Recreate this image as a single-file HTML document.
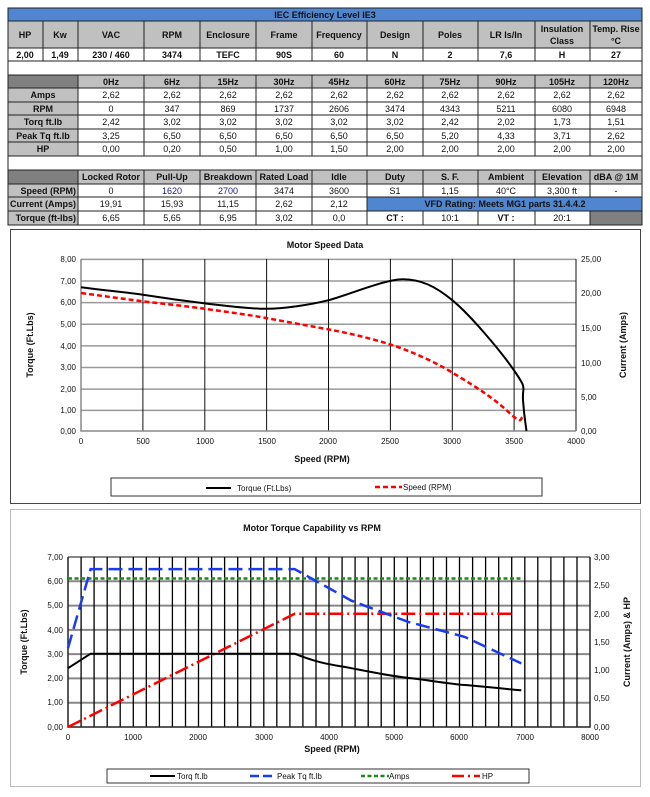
<!DOCTYPE html>
<html><head><meta charset="utf-8"><style>
html,body{margin:0;padding:0;background:#fff;}
svg{display:block;font-family:"Liberation Sans",sans-serif;}
.t{font-size:9px;font-weight:bold;text-anchor:middle;fill:#111;}
.n{font-size:9px;text-anchor:middle;fill:#111;}
.r{font-size:9px;font-weight:bold;text-anchor:end;fill:#111;}
.ax{font-size:8px;fill:#111;}
</style></head><body>
<svg width="650" height="797" viewBox="0 0 650 797" xmlns="http://www.w3.org/2000/svg">
<rect width="650" height="797" fill="#fff"/>
<g stroke="#222" stroke-width="1">
<rect x="8" y="8" width="634" height="13" fill="#4f86cf"/>
<rect x="8" y="21" width="35" height="27" fill="#c0c0c0"/>
<rect x="43" y="21" width="35" height="27" fill="#c0c0c0"/>
<rect x="78" y="21" width="66" height="27" fill="#c0c0c0"/>
<rect x="144" y="21" width="56" height="27" fill="#c0c0c0"/>
<rect x="200" y="21" width="56" height="27" fill="#c0c0c0"/>
<rect x="256" y="21" width="56" height="27" fill="#c0c0c0"/>
<rect x="312" y="21" width="55" height="27" fill="#c0c0c0"/>
<rect x="367" y="21" width="56" height="27" fill="#c0c0c0"/>
<rect x="423" y="21" width="55" height="27" fill="#c0c0c0"/>
<rect x="478" y="21" width="57" height="27" fill="#c0c0c0"/>
<rect x="535" y="21" width="55" height="27" fill="#c0c0c0"/>
<rect x="590" y="21" width="52" height="27" fill="#c0c0c0"/>
<rect x="8" y="48" width="35" height="13" fill="#fff"/>
<rect x="43" y="48" width="35" height="13" fill="#fff"/>
<rect x="78" y="48" width="66" height="13" fill="#fff"/>
<rect x="144" y="48" width="56" height="13" fill="#fff"/>
<rect x="200" y="48" width="56" height="13" fill="#fff"/>
<rect x="256" y="48" width="56" height="13" fill="#fff"/>
<rect x="312" y="48" width="55" height="13" fill="#fff"/>
<rect x="367" y="48" width="56" height="13" fill="#fff"/>
<rect x="423" y="48" width="55" height="13" fill="#fff"/>
<rect x="478" y="48" width="57" height="13" fill="#fff"/>
<rect x="535" y="48" width="55" height="13" fill="#fff"/>
<rect x="590" y="48" width="52" height="13" fill="#fff"/>
<rect x="8" y="61" width="634" height="14" fill="#fff"/>
<rect x="8" y="75" width="70" height="13" fill="#808080"/>
<rect x="8" y="88" width="70" height="14" fill="#c0c0c0"/>
<rect x="8" y="102" width="70" height="13" fill="#c0c0c0"/>
<rect x="8" y="115" width="70" height="14" fill="#c0c0c0"/>
<rect x="8" y="129" width="70" height="13" fill="#c0c0c0"/>
<rect x="8" y="142" width="70" height="14" fill="#c0c0c0"/>
<rect x="8" y="156" width="634" height="14" fill="#fff"/>
<rect x="8" y="170" width="70" height="14" fill="#808080"/>
<rect x="8" y="184" width="70" height="13" fill="#c0c0c0"/>
<rect x="8" y="197" width="70" height="14" fill="#c0c0c0"/>
<rect x="8" y="211" width="70" height="14" fill="#c0c0c0"/>
</g>
<g stroke="#222" stroke-width="1" fill="#fff">
<path d="M78 75H642V156H78Z" fill="#fff"/>
<path d="M78 75H642V88H78Z" fill="#c0c0c0"/>
<path d="M78 170H642V184H78Z" fill="#c0c0c0"/>
<path d="M78 184H642V225H78Z" fill="#fff"/>
<path d="M367 197H642V211H367Z" fill="#4f86cf"/>
<path d="M590 211H642V225H590Z" fill="#808080"/>
<path d="M78 88H642M78 102H642M78 115H642M78 129H642M78 142H642M78 197H642M78 211H642" fill="none"/>
<path d="M144 75V156M200 75V156M256 75V156M312 75V156M367 75V156M423 75V156M478 75V156M535 75V156M590 75V156" fill="none"/>
<path d="M144 170V225M200 170V225M256 170V225M312 170V225M367 170V225M423 170V197M478 170V197M535 170V197M590 170V197M423 211V225M478 211V225M535 211V225M590 211V225" fill="none"/>
</g>
<text class="t" x="325" y="18">IEC Efficiency Level IE3</text>
<g class="t">
<text x="25" y="38">HP</text><text x="60" y="38">Kw</text><text x="111" y="38">VAC</text><text x="172" y="38">RPM</text><text x="228" y="38">Enclosure</text><text x="284" y="38">Frame</text><text x="339" y="38">Frequency</text><text x="395" y="38">Design</text><text x="450" y="38">Poles</text><text x="506" y="38">LR Is/In</text><text x="562" y="32">Insulation</text><text x="562" y="44">Class</text><text x="616" y="32">Temp. Rise</text><text x="616" y="44">°C</text>
<text x="25" y="58">2,00</text><text x="60" y="58">1,49</text><text x="111" y="58">230 / 460</text><text x="172" y="58">3474</text><text x="228" y="58">TEFC</text><text x="284" y="58">90S</text><text x="339" y="58">60</text><text x="395" y="58">N</text><text x="450" y="58">2</text><text x="506" y="58">7,6</text><text x="562" y="58">H</text><text x="616" y="58">27</text>
<text x="111" y="85">0Hz</text><text x="172" y="85">6Hz</text><text x="228" y="85">15Hz</text><text x="284" y="85">30Hz</text><text x="339" y="85">45Hz</text><text x="395" y="85">60Hz</text><text x="450" y="85">75Hz</text><text x="506" y="85">90Hz</text><text x="562" y="85">105Hz</text><text x="616" y="85">120Hz</text>
<text x="43" y="98">Amps</text><text x="43" y="112">RPM</text><text x="43" y="125">Torq ft.lb</text><text x="43" y="139">Peak Tq ft.lb</text><text x="43" y="152">HP</text>
<text x="111" y="180">Locked Rotor</text><text x="172" y="180">Pull-Up</text><text x="228" y="180">Breakdown</text><text x="284" y="180">Rated Load</text><text x="339" y="180">Idle</text><text x="395" y="180">Duty</text><text x="450" y="180">S. F.</text><text x="506" y="180">Ambient</text><text x="562" y="180">Elevation</text><text x="616" y="180">dBA @ 1M</text>
<text x="505" y="207">VFD Rating: Meets MG1 parts 31.4.4.2</text>
</g>
<g class="r"><text x="76" y="194">Speed (RPM)</text><text x="76" y="207">Current (Amps)</text><text x="76" y="221">Torque (ft-lbs)</text></g>
<g class="n">
<text x="111" y="98">2,62</text><text x="172" y="98">2,62</text><text x="228" y="98">2,62</text><text x="284" y="98">2,62</text><text x="339" y="98">2,62</text><text x="395" y="98">2,62</text><text x="450" y="98">2,62</text><text x="506" y="98">2,62</text><text x="562" y="98">2,62</text><text x="616" y="98">2,62</text>
<text x="111" y="112">0</text><text x="172" y="112">347</text><text x="228" y="112">869</text><text x="284" y="112">1737</text><text x="339" y="112">2606</text><text x="395" y="112">3474</text><text x="450" y="112">4343</text><text x="506" y="112">5211</text><text x="562" y="112">6080</text><text x="616" y="112">6948</text>
<text x="111" y="125">2,42</text><text x="172" y="125">3,02</text><text x="228" y="125">3,02</text><text x="284" y="125">3,02</text><text x="339" y="125">3,02</text><text x="395" y="125">3,02</text><text x="450" y="125">2,42</text><text x="506" y="125">2,02</text><text x="562" y="125">1,73</text><text x="616" y="125">1,51</text>
<text x="111" y="139">3,25</text><text x="172" y="139">6,50</text><text x="228" y="139">6,50</text><text x="284" y="139">6,50</text><text x="339" y="139">6,50</text><text x="395" y="139">6,50</text><text x="450" y="139">5,20</text><text x="506" y="139">4,33</text><text x="562" y="139">3,71</text><text x="616" y="139">2,62</text>
<text x="111" y="152">0,00</text><text x="172" y="152">0,20</text><text x="228" y="152">0,50</text><text x="284" y="152">1,00</text><text x="339" y="152">1,50</text><text x="395" y="152">2,00</text><text x="450" y="152">2,00</text><text x="506" y="152">2,00</text><text x="562" y="152">2,00</text><text x="616" y="152">2,00</text>
<text x="111" y="194">0</text><text x="172" y="194" fill="#1a1a8a">1620</text><text x="228" y="194" fill="#1a1a8a">2700</text><text x="284" y="194">3474</text><text x="339" y="194">3600</text><text x="395" y="194">S1</text><text x="450" y="194">1,15</text><text x="506" y="194">40°C</text><text x="562" y="194">3,300 ft</text><text x="616" y="194">-</text>
<text x="111" y="207">19,91</text><text x="172" y="207">15,93</text><text x="228" y="207">11,15</text><text x="284" y="207">2,62</text><text x="339" y="207">2,12</text>
<text x="111" y="221">6,65</text><text x="172" y="221">5,65</text><text x="228" y="221">6,95</text><text x="284" y="221">3,02</text><text x="339" y="221">0,0</text>
<text x="395" y="221" font-weight="bold">CT :</text><text x="450" y="221">10:1</text><text x="506" y="221" font-weight="bold">VT :</text><text x="562" y="221">20:1</text>
</g>

<rect x="10.5" y="229.5" width="630" height="274" fill="#fff" stroke="#444"/>
<text x="325" y="248" class="t" font-size="10">Motor Speed Data</text>
<g stroke="#999" stroke-width="1.5">
<path d="M81 259.4H576M81 281H576M81 302.6H576M81 324.3H576M81 345.9H576M81 367.5H576M81 389.1H576M81 410.4H576"/>
</g>
<g stroke="#111" stroke-width="1">
<path d="M142.9 259V431M204.8 259V431M266.6 259V431M328.5 259V431M390.4 259V431M452.3 259V431M514.1 259V431M576 259V431"/>
</g>
<path d="M81 259V431H576" fill="none" stroke="#888" stroke-width="1.5"/>
<g class="ax" text-anchor="end">
<text x="76" y="262">8,00</text><text x="76" y="284">7,00</text><text x="76" y="305">6,00</text><text x="76" y="327">5,00</text><text x="76" y="349">4,00</text><text x="76" y="370">3,00</text><text x="76" y="392">2,00</text><text x="76" y="413">1,00</text><text x="76" y="434">0,00</text>
</g>
<g class="ax">
<text x="581" y="262">25,00</text><text x="581" y="296">20,00</text><text x="581" y="331">15,00</text><text x="581" y="366">10,00</text><text x="581" y="400">5,00</text><text x="581" y="434">0,00</text>
</g>
<g class="ax" text-anchor="middle">
<text x="81" y="444">0</text><text x="143" y="444">500</text><text x="205" y="444">1000</text><text x="267" y="444">1500</text><text x="328" y="444">2000</text><text x="390" y="444">2500</text><text x="452" y="444">3000</text><text x="514" y="444">3500</text><text x="576" y="444">4000</text>
</g>
<text x="322" y="462" class="t">Speed (RPM)</text>
<text transform="translate(33,345) rotate(-90)" class="t" font-size="8.5">Torque (Ft.Lbs)</text>
<text transform="translate(626,345) rotate(-90)" class="t" font-size="8.5">Current (Amps)</text>
<path d="M81 287.2C110 291 125 292 142.9 294.8S185 301 204.8 303.4S250 309 266.6 308.8S310 305 328.5 300.2S385 279.2 402.8 279.2S435 286 452.3 300.2S500 350 514.1 370.5S522 385 523 400S525 420 526.5 431" fill="none" stroke="#000" stroke-width="2"/>
<path d="M81 293C110 297 125 299 142.9 301.3S185 306 204.8 308.8S250 315 266.6 318.1S310 326 328.5 329.4S370 338 390.4 344.5S435 362 452.3 372.6S490 395 507.9 411.5S518 416 525 416.3" fill="none" stroke="#f00" stroke-width="2.5" stroke-dasharray="5,3"/>
<rect x="111" y="478" width="431" height="18" fill="#fff" stroke="#333"/>
<path d="M206 488H231" stroke="#000" stroke-width="2"/>
<text x="237" y="491" class="ax">Torque (Ft.Lbs)</text>
<path d="M375 487H402" stroke="#f00" stroke-width="2.5" stroke-dasharray="5,3"/>
<text x="403" y="490" class="ax">Speed (RPM)</text>

<rect x="10.5" y="509.5" width="630" height="277" fill="#fff" stroke="#bbb"/>
<text x="312" y="531" class="t" font-size="10">Motor Torque Capability vs RPM</text>
<g stroke="#888" stroke-width="2">
<path d="M68 557H590M68 581.3H590M68 605.6H590M68 629.9H590M68 654.1H590M68 678.4H590M68 702.7H590"/>
</g>
<g stroke="#000" stroke-width="1.3">
<path d="M81.1 557V727M94.1 557V727M107.2 557V727M120.2 557V727M133.3 557V727M146.3 557V727M159.4 557V727M172.4 557V727M185.5 557V727M198.5 557V727M211.6 557V727M224.6 557V727M237.7 557V727M250.7 557V727M263.8 557V727M276.8 557V727M289.9 557V727M302.9 557V727M316 557V727M329 557V727M342.1 557V727M355.1 557V727M368.2 557V727M381.2 557V727M394.3 557V727M407.3 557V727M420.4 557V727M433.4 557V727M446.5 557V727M459.5 557V727M472.6 557V727M485.6 557V727M498.7 557V727M511.7 557V727M524.8 557V727M537.8 557V727M550.9 557V727M563.9 557V727M577 557V727"/>
</g>
<path d="M68 557V727H590V557" fill="none" stroke="#222" stroke-width="1.5"/>
<g class="ax" text-anchor="end">
<text x="63" y="560">7,00</text><text x="63" y="584">6,00</text><text x="63" y="608">5,00</text><text x="63" y="633">4,00</text><text x="63" y="657">3,00</text><text x="63" y="681">2,00</text><text x="63" y="705">1,00</text><text x="63" y="730">0,00</text>
</g>
<g class="ax">
<text x="594" y="560">3,00</text><text x="594" y="588">2,50</text><text x="594" y="617">2,00</text><text x="594" y="645">1,50</text><text x="594" y="673">1,00</text><text x="594" y="701">0,50</text><text x="594" y="730">0,00</text>
</g>
<g class="ax" text-anchor="middle">
<text x="68" y="740">0</text><text x="133" y="740">1000</text><text x="198" y="740">2000</text><text x="264" y="740">3000</text><text x="329" y="740">4000</text><text x="394" y="740">5000</text><text x="459" y="740">6000</text><text x="525" y="740">7000</text><text x="590" y="740">8000</text>
</g>
<text x="332" y="752" class="t">Speed (RPM)</text>
<text transform="translate(27,642) rotate(-90)" class="t" font-size="8.5">Torque (Ft.Lbs)</text>
<text transform="translate(630,642) rotate(-90)" class="t" font-size="8.5">Current (Amps) &amp; HP</text>
<path d="M68 578.5H522" stroke="#1a8a1a" stroke-width="2.5" stroke-dasharray="4,2.5" fill="none"/>
<path d="M68 727L294.7 613.7H514.6" stroke="#f00" stroke-width="2.5" stroke-dasharray="14,4,2,4" fill="none"/>
<path d="M68 668.2L90.6 653.7H294.7C320 664 335 665 351.4 668.2S390 676 408 677.9S450 684 464.7 685S505 689 521.3 690.3" stroke="#000" stroke-width="2" fill="none"/>
<path d="M68 648.1L90.6 569.1H294.7L351.4 600.7L408 621.8L464.7 636.9L521.3 663.4" stroke="#1a3cf0" stroke-width="2.5" stroke-dasharray="14,6" fill="none"/>
<rect x="107" y="769" width="422" height="14" fill="#fff" stroke="#333"/>
<path d="M150 776H175" stroke="#000" stroke-width="2"/><text x="177" y="779" class="ax">Torq ft.lb</text>
<path d="M250 776H276" stroke="#1a3cf0" stroke-width="2.5" stroke-dasharray="9,4"/><text x="277" y="779" class="ax">Peak Tq ft.lb</text>
<path d="M361 776H389" stroke="#1a8a1a" stroke-width="2.5" stroke-dasharray="4,2.5"/><text x="389" y="779" class="ax">Amps</text>
<path d="M452 776H480" stroke="#f00" stroke-width="2.5" stroke-dasharray="12,4,2,4"/><text x="482" y="779" class="ax">HP</text>
</svg>
</body></html>
